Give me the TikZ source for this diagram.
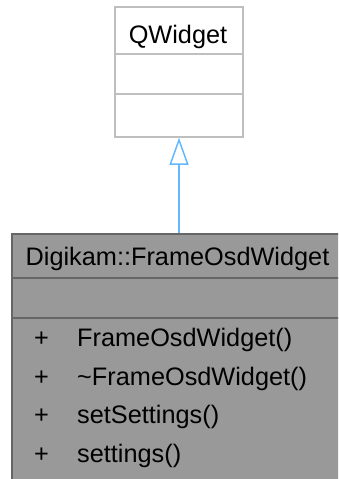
\documentclass[tikz,border=0pt]{standalone}
\usepackage{fontspec}
\setmainfont{Liberation Sans}
\usetikzlibrary{arrows.meta}
\definecolor{topborder}{HTML}{BFBFBF}
\definecolor{botfill}{HTML}{999999}
\definecolor{botborder}{HTML}{666666}
\definecolor{arrowblue}{HTML}{63B8FF}
\begin{document}
\begin{tikzpicture}[x=1pt,y=-1pt,
  lbl/.style={font=\fontsize{25.3}{30}\selectfont, inner sep=0pt, anchor=base},
  mem/.style={font=\fontsize{25.3}{30}\selectfont, inner sep=0pt, anchor=base west}]
\useasboundingbox (0,0) rectangle (338,479);
\clip (0,0) rectangle (338,479);
% top class
\node[draw=topborder, line width=1.5pt, fill=white, minimum width=128pt, minimum height=130pt, inner sep=0pt] (qw) at (179,72) {};
\draw[topborder, line width=1.5pt] (qw.west |- 0,54) -- (qw.east |- 0,54);
\draw[topborder, line width=1.5pt] (qw.west |- 0,94) -- (qw.east |- 0,94);
\node[lbl] (qwt) at (178,43) {QWidget};
% bottom class
\node[draw=botborder, line width=2pt, fill=botfill, minimum width=330pt, minimum height=260pt, inner sep=0pt, anchor=north west] (fo) at (11,233) {};
\draw[botborder, line width=2pt] (fo.west |- 0,278) -- (fo.east |- 0,278);
\draw[botborder, line width=2pt] (fo.west |- 0,318) -- (fo.east |- 0,318);
\node[lbl] (fot) at (177.5,265) {Digikam::FrameOsdWidget};
\node[mem] (p1) at (34,346) {+};
\node[mem] (m1) at (77,346) {FrameOsdWidget()};
\node[mem] (p2) at (34,385) {+};
\node[mem] (m2) at (77,385) {\textasciitilde FrameOsdWidget()};
\node[mem] (p3) at (34,423) {+};
\node[mem] (m3) at (77,423) {setSettings()};
\node[mem] (p4) at (34,462) {+};
\node[mem] (m4) at (77,462) {settings()};
% inheritance
\draw[arrowblue, line width=1.5pt, -{Triangle[open, length=27pt, width=19pt]}] (fo.north -| qw.south) -- (qw.south);
\end{tikzpicture}
\end{document}
